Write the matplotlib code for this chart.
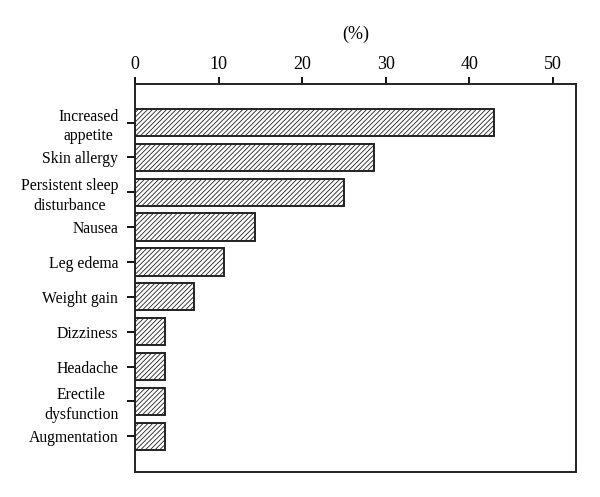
import matplotlib.pyplot as plt

# side effects, percent of patients
effects = ["Increased\nappetite", "Skin allergy", "Persistent sleep\ndisturbance",
           "Nausea", "Leg edema", "Weight gain", "Dizziness", "Headache",
           "Erectile\ndysfunction", "Augmentation"]
percent = [43.0, 28.6, 25.0, 14.3, 10.7, 7.1, 3.6, 3.6, 3.6, 3.6]
xticks = [0, 10, 20, 30, 40, 50]

plt.rcParams["font.family"] = ["Liberation Serif", "DejaVu Serif"]
plt.rcParams["hatch.linewidth"] = 0.6

fig = plt.figure(figsize=(6, 4.97), dpi=100)
ax = fig.add_axes([0.225, 0.05, 0.735, 0.781])

pos = list(range(len(effects)))
ax.barh(pos, percent, height=0.78, color="white", edgecolor="#222222",
        linewidth=1.4, hatch="///////")

ax.set_ylim(len(effects) - 1 + 1.03, -1.105)
ax.set_xlim(0, 52.75)
ax.set_yticks(pos)
ax.set_yticklabels(effects)
for lab in ax.get_yticklabels():
    lab.set_multialignment("center")
    lab.set_linespacing(1.3)
ax.set_xticks(xticks)
ax.xaxis.tick_top()
ax.xaxis.set_label_position("top")
ax.set_xlabel("(%)", fontsize=13, labelpad=12)
ax.tick_params(axis="x", direction="out", length=5, width=1.3, labelsize=13, pad=3)
ax.tick_params(axis="y", direction="out", length=6, width=1.3, labelsize=11.3, pad=6)
for s in ax.spines.values():
    s.set_linewidth(1.4)
    s.set_color("#222222")

fig.savefig("out.png", dpi=100)
